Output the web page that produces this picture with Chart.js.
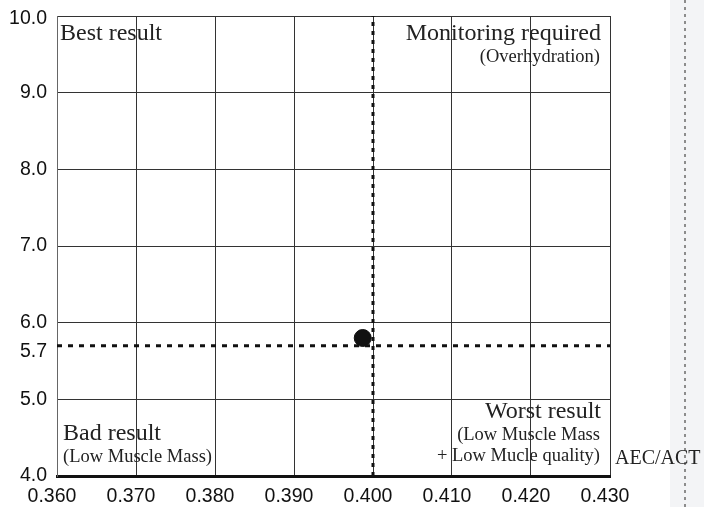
<!DOCTYPE html>
<html>
<head>
<meta charset="utf-8">
<script src="https://cdn.jsdelivr.net/npm/chart.js@4.4.1/dist/chart.umd.min.js"></script>
<style>
  html, body { margin: 0; padding: 0; background: #fff; }
  #wrap { width: 704px; height: 507px; }
</style>
</head>
<body>
<div id="wrap"><canvas id="chart" width="704" height="507"></canvas></div>
<script>
// --- chart data ---
const xTicks = [0.36, 0.37, 0.38, 0.39, 0.40, 0.41, 0.42, 0.43];
const yTicks = [4.0, 5.0, 5.7, 6.0, 7.0, 8.0, 9.0, 10.0];
const resultX = [0.3987];
const resultY = [5.8];
const cutoffX = 0.400;   // AEC/ACT cut-off (vertical dotted)
const cutoffY = 5.7;     // horizontal dotted cut-off
const quadrantTitles = ["Best result", "Monitoring required", "Bad result", "Worst result"];
const quadrantNotes = [[], ["(Overhydration)"], ["(Low Muscle Mass)"], ["(Low Muscle Mass", "+ Low Mucle quality)"]];
const xAxisTitle = "AEC/ACT";

// y labels that sit a little below their line in the original
const shiftedY = { 10: 3, 5.7: 6 };

const GRID = '#333';
const SERIF = '"Liberation Serif", "Times New Roman", serif';
const SANS = '"Liberation Sans", Arial, sans-serif';
const TICK_SIZE = 19.5;

// draws the quadrant captions, the axis name and the grey strip on the right
const overlay = {
  id: 'overlay',
  beforeDraw(chart) {
    const ctx = chart.ctx;
    ctx.save();
    ctx.fillStyle = '#fff';
    ctx.fillRect(0, 0, chart.width, chart.height);
    // light strip at right edge
    ctx.fillStyle = '#f3f4f6';
    ctx.fillRect(670, 0, chart.width - 670, chart.height);
    ctx.strokeStyle = '#8c8c8c';
    ctx.lineWidth = 2;
    ctx.setLineDash([3, 4]);
    ctx.beginPath();
    ctx.moveTo(685, 0);
    ctx.lineTo(685, chart.height);
    ctx.stroke();
    ctx.restore();
  },
  afterDatasetsDraw(chart) {
    const ctx = chart.ctx;
    const a = chart.chartArea;
    const ys = chart.scales.y;
    ctx.save();

    // the two shifted y labels
    ctx.fillStyle = '#111';
    ctx.font = TICK_SIZE + 'px ' + SANS;
    ctx.textAlign = 'right';
    ctx.textBaseline = 'middle';
    Object.keys(shiftedY).forEach(k => {
      const v = Number(k);
      ctx.fillText(v.toFixed(1), a.left - 10, ys.getPixelForValue(v) + shiftedY[k]);
    });

    ctx.fillStyle = '#222';
    ctx.textBaseline = 'alphabetic';

    // top left
    ctx.textAlign = 'left';
    ctx.font = '24px ' + SERIF;
    ctx.fillText(quadrantTitles[0], a.left + 3, a.top + 24);

    // top right
    ctx.textAlign = 'right';
    ctx.fillText(quadrantTitles[1], a.right - 9, a.top + 24);
    ctx.font = '18.5px ' + SERIF;
    ctx.fillText(quadrantNotes[1][0], a.right - 10, a.top + 46);

    // bottom left
    ctx.textAlign = 'left';
    ctx.font = '24px ' + SERIF;
    ctx.fillText(quadrantTitles[2], a.left + 6, a.bottom - 36);
    ctx.font = '18.5px ' + SERIF;
    ctx.fillText(quadrantNotes[2][0], a.left + 6, a.bottom - 14);

    // bottom right
    ctx.textAlign = 'right';
    ctx.font = '24px ' + SERIF;
    ctx.fillText(quadrantTitles[3], a.right - 9, a.bottom - 58);
    ctx.font = '18.5px ' + SERIF;
    ctx.fillText(quadrantNotes[3][0], a.right - 10, a.bottom - 36);
    ctx.fillText(quadrantNotes[3][1], a.right - 10, a.bottom - 15);

    // axis name
    ctx.textAlign = 'left';
    ctx.font = '20px ' + SERIF;
    ctx.fillText(xAxisTitle, a.right + 5, a.bottom - 12);
    ctx.restore();
  }
};

const ctx = document.getElementById('chart').getContext('2d');
new Chart(ctx, {
  type: 'scatter',
  data: {
    datasets: [
      {
        // vertical cut-off
        type: 'line',
        data: [{ x: cutoffX, y: yTicks[0] }, { x: cutoffX, y: yTicks[yTicks.length - 1] }],
        borderColor: '#111',
        borderWidth: 3,
        borderDash: [4, 5],
        pointRadius: 0,
        fill: false
      },
      {
        // horizontal cut-off
        type: 'line',
        data: [{ x: xTicks[0], y: cutoffY }, { x: xTicks[xTicks.length - 1], y: cutoffY }],
        borderColor: '#111',
        borderWidth: 3,
        borderDash: [5, 6],
        pointRadius: 0,
        fill: false
      },
      {
        data: resultX.map((x, i) => ({ x: x, y: resultY[i] })),
        backgroundColor: '#111',
        borderColor: '#111',
        pointRadius: 8.5,
        pointHoverRadius: 8.5
      }
    ]
  },
  options: {
    responsive: false,
    animation: false,
    devicePixelRatio: 1,
    layout: { padding: { top: 16, right: 94, left: 0, bottom: 0 } },
    plugins: { legend: { display: false }, tooltip: { enabled: false } },
    scales: {
      x: {
        type: 'linear',
        min: xTicks[0],
        max: xTicks[xTicks.length - 1],
        afterBuildTicks: s => { s.ticks = xTicks.map(v => ({ value: v })); },
        afterFit: s => { s.height = 31; s.paddingLeft = 0; s.paddingRight = 0; },
        ticks: {
          color: '#111',
          font: { family: SANS, size: TICK_SIZE },
          padding: 9,
          labelOffset: -5,
          maxRotation: 0,
          autoSkip: false,
          callback: v => Number(v).toFixed(3)
        },
        grid: { color: GRID, lineWidth: 1, drawTicks: false },
        border: { color: '#111', width: 3 }
      },
      y: {
        type: 'linear',
        min: yTicks[0],
        max: yTicks[yTicks.length - 1],
        afterBuildTicks: s => { s.ticks = yTicks.map(v => ({ value: v })); },
        afterFit: s => { s.width = 57; s.paddingTop = 0; s.paddingBottom = 0; },
        ticks: {
          color: '#111',
          font: { family: SANS, size: TICK_SIZE },
          padding: 10,
          autoSkip: false,
          callback: v => (shiftedY[v] !== undefined) ? '' : Number(v).toFixed(1)
        },
        grid: {
          color: c => (c.tick && c.tick.value === cutoffY) ? 'rgba(0,0,0,0)' : GRID,
          lineWidth: 1,
          drawTicks: false
        },
        border: { color: '#666', width: 1 }
      }
    }
  },
  plugins: [overlay]
});
</script>
</body>
</html>
